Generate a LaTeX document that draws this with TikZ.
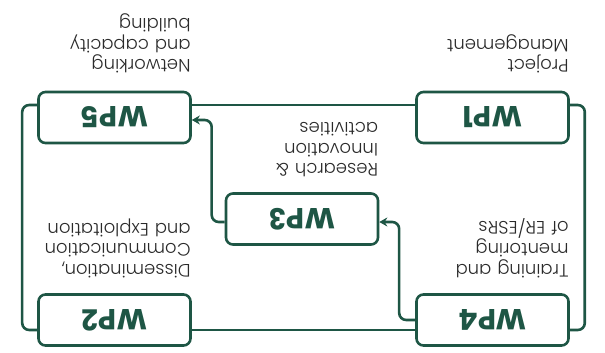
\documentclass[tikz,border=0pt]{standalone}
\usepackage{fontspec}
\setmainfont{Poppins}[UprightFont=* Light, BoldFont=* Bold]
\usetikzlibrary{arrows.meta}
\definecolor{wpgreen}{HTML}{1E5645}
\definecolor{wptext}{HTML}{2A2A2A}

\begin{document}
\begin{tikzpicture}[x=1pt, y=1pt, rotate=180, transform shape,
    wp/.style={draw=wpgreen, line width=2.6pt, rounded corners=7pt, minimum width=152pt, minimum height=51pt,
      text=wpgreen, font=\fontsize{29}{30}\selectfont\bfseries},
    desc/.style={anchor=north west, inner sep=0pt, text width=170pt, align=left, text=wptext,
      font=\fontsize{18}{20.5}\selectfont},
    link/.style={draw=wpgreen, line width=2.6pt, rounded corners=7pt},
    flow/.style={link, -{Stealth[length=8pt, width=9pt]}}]

    \useasboundingbox (0,0) rectangle (605,353);

    % Define the nodes
    \node[wp] (wp4) at (112.5,320) {WP4};
    \node[wp] (wp2) at (490.5,320) {WP2};
    \node[wp] (wp3) at (303,219) {WP3};
    \node[wp] (wp1) at (112.5,117.5) {WP1};
    \node[wp] (wp5) at (490.5,117.5) {WP5};

    % Define the edges
    \draw[link] ([yshift=10pt]wp4.east) -- ([yshift=10pt]wp2.west);
    \draw[link] ([yshift=-12.5pt]wp1.east) -- ([yshift=-12.5pt]wp5.west);
    \draw[link] ([yshift=10pt]wp4.west) -- ++(-15,0) |- ([yshift=-12.5pt]wp1.west);
    \draw[link] ([yshift=10pt]wp2.east) -- ++(15,0) |- ([yshift=-12.5pt]wp5.east);
    \draw[flow] (wp4.east) -- ++(16,0) |- ([yshift=3pt]wp3.west);
    \draw[flow] ([yshift=3pt]wp3.east) -- ++(13,0) |- ([yshift=2.5pt]wp5.west);

    % Add labels for work packages
    \node[desc] (wp4text) at ([xshift=1pt, yshift=-15pt]wp4.south west) {Training and\\mentoring\\of ER/ESRs};
    \node[desc] (wp2text) at ([xshift=1pt, yshift=-15pt]wp2.south west) {Dissemination,\\Communication\\and Exploitation};
    \node[desc] (wp3text) at ([xshift=1pt, yshift=-15pt]wp3.south west) {Research \&\\Innovation\\activities};
    \node[desc] (wp1text) at ([xshift=1pt, yshift=-17pt]wp1.south west) {Project\\Management};
    \node[desc] (wp5text) at ([xshift=1pt, yshift=-17pt]wp5.south west) {Networking\\and capacity\\building};

\end{tikzpicture}
\end{document}
